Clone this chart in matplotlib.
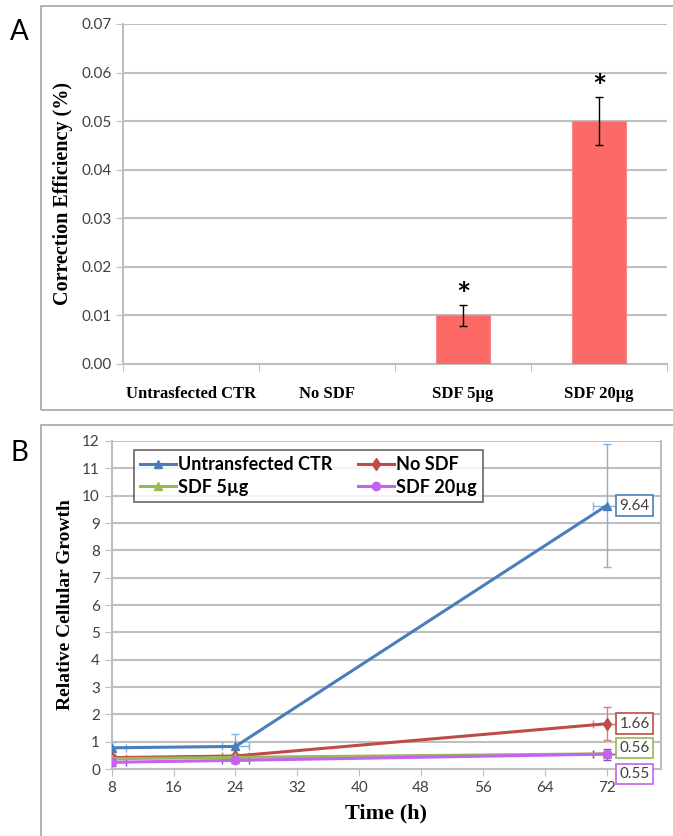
import numpy as np
import matplotlib
matplotlib.use("Agg")
from matplotlib import pyplot as plt
from matplotlib.patches import Rectangle

#
# Data
#
# panel A
categories = ["Untrasfected CTR", "No SDF", "SDF 5µg", "SDF 20µg"]
efficiency = [0.0, 0.0, 0.010, 0.050]
efficiency_err = [0.0, 0.0, 0.0021, 0.0049]
significant = [False, False, True, True]

# panel B
hours = [8, 24, 72]
series_names = ["Untransfected CTR", "No SDF", "SDF 5µg", "SDF 20µg"]
growth_ctr = [0.78, 0.83, 9.64]
growth_nosdf = [0.42, 0.48, 1.66]
growth_sdf5 = [0.38, 0.43, 0.56]
growth_sdf20 = [0.25, 0.32, 0.55]
err_ctr = [0.22, 0.45, 2.25]
err_nosdf = [0.10, 0.08, 0.60]
err_sdf5 = [0.08, 0.06, 0.12]
err_sdf20 = [0.15, 0.08, 0.20]
hours_err = 1.8
end_labels = ["9.64", "1.66", "0.56", "0.55"]

#
# Styles
#
sans = ["Lato", "DejaVu Sans"]
serif = ["Liberation Serif", "DejaVu Serif"]
grid_col = "#bfbfbf"
line_cols = ["#4a7ebb", "#be4b48", "#98b954", "#c562f2"]
err_cols = ["#7fb2e5", "#e07a77", "#98b954", "#9a45c8"]
markers = ["^", "d", "^", "o"]

fig = plt.figure(figsize=(6.73, 8.36), dpi=100)

# panel frames
fig.add_artist(Rectangle((0.061, 0.5096), 1.0, 0.4832, transform=fig.transFigure,
                         fill=False, edgecolor="#a6a6a6", lw=1.2))
fig.add_artist(Rectangle((0.061, -0.1), 1.0, 0.5916, transform=fig.transFigure,
                         fill=False, edgecolor="#a6a6a6", lw=1.2))
fig.text(0.015, 0.962, "A", fontsize=20, family=sans, va="center")
fig.text(0.015, 0.458, "B", fontsize=20, family=sans, va="center")

#
# Panel A: bar chart
#
ax1 = fig.add_axes([0.183, 0.5646, 0.808, 0.4067])
x = np.arange(len(categories))
ax1.bar(x, efficiency, width=0.4, color="#fb6a66", edgecolor="#f08a86", lw=0.8, zorder=3)
ax1.errorbar(x[2:], efficiency[2:], yerr=efficiency_err[2:], fmt="none",
             ecolor="black", elinewidth=1, capsize=3, zorder=4)
for i in range(len(categories)):
    if significant[i]:
        ax1.text(x[i], efficiency[i] + efficiency_err[i] + 0.0018, "*",
                 ha="center", va="center", fontsize=24, fontweight="bold", family=sans)
ax1.set_xlim(-0.5, 3.5)
ax1.set_ylim(0, 0.07)
ax1.set_yticks(np.arange(0, 0.071, 0.01))
ax1.set_yticklabels(["%.2f" % v for v in np.arange(0, 0.071, 0.01)],
                    family=sans, fontsize=11, color="#404040")
ax1.set_xticks(np.arange(-0.5, 3.6, 1.0))
ax1.set_xticklabels([])
ax1.set_xticks(x, minor=True)
ax1.set_xticklabels(categories, minor=True, family=serif, fontsize=12, fontweight="bold")
ax1.tick_params(axis="x", which="minor", length=0, pad=16)
ax1.tick_params(axis="x", which="major", length=5, color=grid_col, direction="out")
ax1.tick_params(axis="y", length=5, color=grid_col)
ax1.grid(axis="y", color=grid_col, lw=1.5, zorder=0)
for s in ["top", "right"]:
    ax1.spines[s].set_visible(False)
for s in ["left", "bottom"]:
    ax1.spines[s].set_color(grid_col)
    ax1.spines[s].set_linewidth(1.5)
ax1.set_ylabel("Correction Efficiency (%)", family=serif, fontsize=14.5,
               fontweight="bold", labelpad=6)

#
# Panel B: growth curves
#
ax2 = fig.add_axes([0.166, 0.080, 0.816, 0.3925])
growth = [growth_ctr, growth_nosdf, growth_sdf5, growth_sdf20]
errs = [err_ctr, err_nosdf, err_sdf5, err_sdf20]
handles = []
for i in range(len(series_names)):
    ax2.errorbar(hours, growth[i], yerr=errs[i], xerr=hours_err, fmt="none",
                 ecolor=err_cols[i], elinewidth=1, capsize=3, zorder=3)
    h, = ax2.plot(hours, growth[i], color=line_cols[i], lw=2.2, marker=markers[i],
                  markersize=6, label=series_names[i], zorder=4)
    handles.append(h)

# value boxes at the 72 h end, spread apart so they do not overlap
label_y = [9.64, 1.66, 0.77, -0.18]
for i in range(len(series_names)):
    ax2.text(75.6, label_y[i], end_labels[i], family=sans, fontsize=11, color="#404040",
             ha="center", va="center", clip_on=False,
             bbox=dict(boxstyle="square,pad=0.22", fc="white", ec=line_cols[i], lw=1.2))

ax2.set_xlim(8, 79)
ax2.set_ylim(0, 12)
ax2.set_xticks(np.arange(8, 73, 8))
ax2.set_yticks(np.arange(0, 13, 1))
for lab in ax2.get_xticklabels() + ax2.get_yticklabels():
    lab.set_family(sans)
    lab.set_fontsize(11)
    lab.set_color("#404040")
ax2.tick_params(length=5, color=grid_col)
ax2.grid(axis="y", color=grid_col, lw=1.5, zorder=0)
for s in ax2.spines.values():
    s.set_color(grid_col)
    s.set_linewidth(1.5)
ax2.spines["top"].set_visible(False)
ax2.set_xlabel("Time (h)", family=serif, fontsize=16, fontweight="bold", labelpad=6)
ax2.set_ylabel("Relative Cellular Growth", family=serif, fontsize=14,
               fontweight="bold", labelpad=6)
# legend rows: CTR / No SDF on top, SDF 5 / SDF 20 below
order = [0, 2, 1, 3]
leg = ax2.legend([handles[k] for k in order], [series_names[k] for k in order],
                 ncol=2, loc="upper left", bbox_to_anchor=(0.024, 1.0),
                 prop={"family": sans, "size": 13, "weight": "bold"},
                 frameon=True, fancybox=False, edgecolor="#404040",
                 handlelength=2.0, handletextpad=0.1, columnspacing=1.4,
                 labelspacing=0.3, borderpad=0.35)
leg.get_frame().set_linewidth(1.2)

fig.savefig("out.png", dpi=100)
